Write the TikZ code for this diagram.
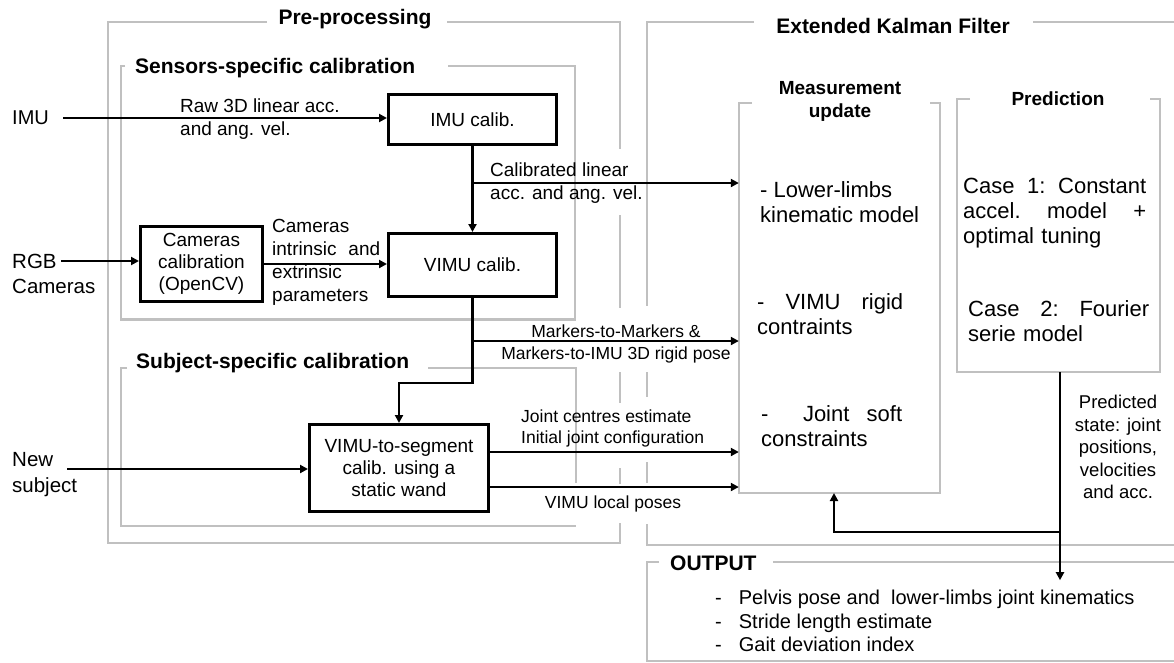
\documentclass[tikz,border=0pt]{standalone}
\usepackage{fontspec}
\setmainfont{Liberation Sans}
\usetikzlibrary{arrows.meta,calc}
\newcommand\myfs[2]{\fontsize{#1}{#2}\selectfont}
\definecolor{framegray}{RGB}{192,192,192}
\begin{document}
\begin{tikzpicture}[x=1pt,y=-1pt,
  frame/.style={draw=framegray,line width=2.8pt},
  blk/.style={draw=black,line width=2.8pt,fill=white,inner sep=0pt,align=center,font=\myfs{19}{22}},
  conn/.style={line width=2.5pt,-{Triangle[length=8pt,width=8pt]}},
  lbl/.style={inner sep=0pt,font=\myfs{19}{23},align=left},
  ttl/.style={inner sep=0pt,font=\bfseries\myfs{21}{25}},
  body/.style={inner sep=0pt,font=\myfs{22}{25},align=left,anchor=west}]
\useasboundingbox (0,0) rectangle (1174,662);

% ---------- gray frames ----------
% Pre-processing
\draw[frame] (267,22) -- (108,22) -- (108,543) -- (620,543) -- (620,523);
\draw[frame] (447,22) -- (620,22) -- (620,149);
\draw[frame] (620,215) -- (620,308);
\draw[frame] (620,372) -- (620,403);
\draw[frame] (620,468) -- (620,484);
% Sensors-specific
\draw[frame] (125,66) -- (121,66) -- (121,319.5) -- (575,319.5) -- (575,66) -- (448,66);
% Subject-specific
\draw[frame] (127,368) -- (121,368) -- (121,526) -- (576,526);
\draw[frame] (428,368) -- (576,368) -- (576,483);
% Extended Kalman Filter
\draw[frame] (754,22) -- (647,22) -- (647,306);
\draw[frame] (1033,22) -- (1176,22);
\draw[frame] (647,372) -- (647,397);
\draw[frame] (647,462) -- (647,483);
\draw[frame] (647,524) -- (647,545) -- (1176,545);
% Measurement update
\draw[frame] (752,103) -- (739,103) -- (739,493) -- (940,493) -- (940,103) -- (930,103);
% Prediction
\draw[frame] (970,99) -- (957,99) -- (957,372) -- (1160,372) -- (1160,99) -- (1150,99);
% OUTPUT
\draw[frame] (659,562) -- (647,562) -- (647,661) -- (1176,661);
\draw[frame] (773,562) -- (1176,562);

% ---------- invisible area nodes ----------
\node[inner sep=0pt,minimum width=201pt,minimum height=390pt] (meas) at (839.5,298) {};
\node[inner sep=0pt,minimum width=203pt,minimum height=273pt] (pred) at (1060,235.5) {};
\node[inner sep=0pt,minimum width=527pt,minimum height=99pt] (outbox) at (910.5,611.5) {};

% ---------- titles ----------
\node[ttl] (tpre) at (355,19) {Pre-processing};
\node[ttl,anchor=west] (tsens) at (135,68) {Sensors-specific calibration};
\node[ttl,anchor=west] (tsubj) at (136,363) {Subject-specific calibration};
\node[ttl] (tekf) at (893,26) {Extended Kalman Filter};
\node[ttl,font=\bfseries\myfs{19}{23},align=center] (tmeas) at (840,101.5) {Measurement\\update};
\node[ttl,font=\bfseries\myfs{19}{23}] (tpred) at (1058,99) {Prediction};
\node[ttl,anchor=west] (tout) at (670,563) {OUTPUT};

% ---------- black boxes ----------
\node[blk,minimum width=168.2pt,minimum height=50.2pt] (imucal) at (472.5,119.5) {IMU calib.};
\node[blk,minimum width=168.2pt,minimum height=63.2pt] (vimucal) at (472.5,265) {VIMU calib.};
\node[blk,minimum width=122.2pt,minimum height=75.2pt] (cam) at (201.5,264) {Cameras\\calibration\\(OpenCV)};
\node[blk,minimum width=179.2pt,minimum height=87.2pt] (seg) at (399,468) {VIMU-to-segment\\calib. using a\\static wand};

% ---------- inputs ----------
\node[lbl,font=\myfs{20}{25},anchor=west] (imu) at (12,118) {IMU};
\node[lbl,font=\myfs{20.5}{25},anchor=west] (rgb) at (12,273.5) {RGB\\Cameras};
\node[lbl,font=\myfs{20.5}{26},anchor=west] (newsub) at (12,475) {New\\subject};
\coordinate (rgbS) at (61,261);
\coordinate (nsS) at (67,469);

% ---------- labels ----------
\node[lbl,anchor=west] (lraw) at (180,119.5) {Raw 3D linear acc.\\and ang. vel.};
\node[lbl,anchor=west] (lcal) at (490,183.5) {Calibrated linear\\acc. and ang. vel.};
\node[lbl,anchor=west,text width=108pt] (lcamp) at (272,262.5) {Cameras\\intrinsic\hfill and\\extrinsic\\parameters};
\node[lbl,font=\myfs{17.5}{22},align=center] (lmark) at (616,344) {Markers-to-Markers \&\\Markers-to-IMU 3D rigid pose};
\node[lbl,font=\myfs{17.5}{21},anchor=west] (ljoint) at (521,428.5) {Joint centres estimate\\Initial joint configuration};
\node[lbl,font=\myfs{17.5}{21}] (lvloc) at (613,504) {VIMU local poses};
\node[lbl,font=\myfs{18.5}{22.5},align=center] (lpred) at (1118,447) {Predicted\\state: joint\\positions,\\velocities\\and acc.};

% ---------- measurement / prediction bodies ----------
\node[body] (m1) at (760,202.5) {- Lower-limbs\\kinematic model};
\node[body,text width=146pt] (m2) at (757,314.5) {-\hfill VIMU\hfill rigid\\contraints};
\node[body,text width=141pt] (m3) at (761,426.5) {-\hfill\hfill Joint\hfill soft\\constraints};
\node[body,text width=183pt] (p1) at (963,213.5) {Case\hfill 1:\hfill Constant\\accel.\hfill model\hfill +\\optimal tuning};
\node[body,text width=181pt] (p2) at (968,321) {Case\hfill 2:\hfill Fourier\\serie model};

% ---------- output ----------
\node[inner sep=0pt,anchor=west,font=\myfs{20}{23.5}] (obul) at (715,623.5)
  {\begin{tabular}{@{}l@{\hspace{17pt}}l@{}}
   - & Pelvis pose and~ lower-limbs joint kinematics\\
   - & Stride length estimate\\
   - & Gait deviation index
   \end{tabular}};

% ---------- connectors ----------
\draw[conn] ([xshift=14pt]imu.east) -- (imucal.west |- imu.east);
\draw[conn] (imucal) -- (vimucal);
\coordinate (br1) at (472.5,183);
\draw[conn] (br1) -- (br1 -| meas.west);
\draw[conn] (rgbS) -- (cam.west |- rgbS);
\draw[conn] (cam) -- (cam -| vimucal.west);
\draw[conn] (vimucal.south) -- ++(0,85) -| (seg.north);
\coordinate (br2) at (472.5,341);
\draw[conn] (br2) -- (br2 -| meas.west);
\draw[conn] (nsS) -- (seg.west |- nsS);
\draw[conn] ([yshift=16pt]seg.east) -- ([yshift=16pt]seg.east -| meas.west);
\draw[conn] ([yshift=-19pt]seg.east) -- ([yshift=-19pt]seg.east -| meas.west);
\coordinate (outT) at ($(pred.south)+(0,208)$);
\draw[conn] (pred.south) -- (outT);
\coordinate (fb) at ($(pred.south)+(0,160)$);
\coordinate (measB) at (834,493);
\draw[conn] (fb) -| (measB);
\end{tikzpicture}
\end{document}
